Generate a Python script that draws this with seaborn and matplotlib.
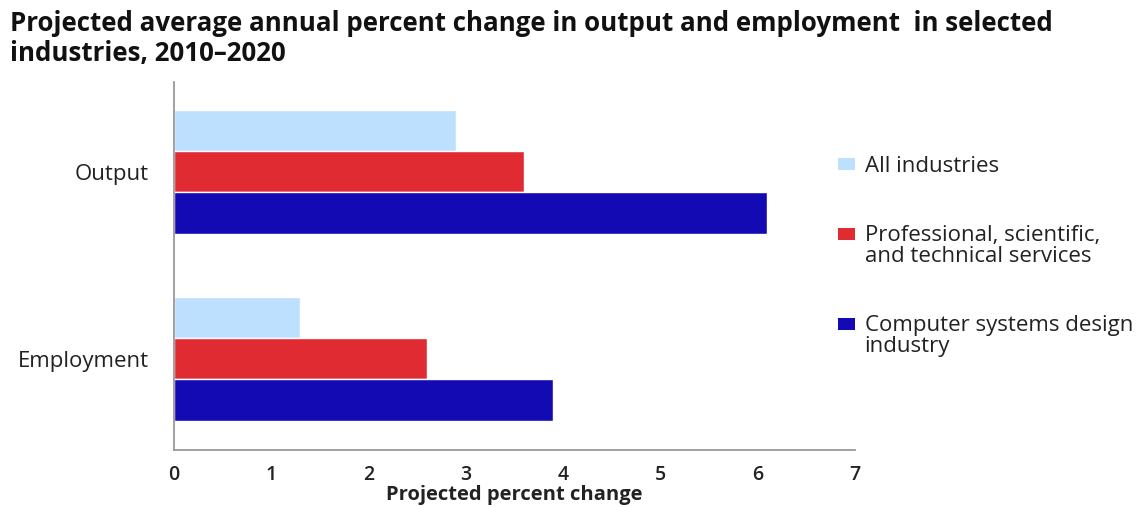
import numpy as np
import pandas as pd
import matplotlib
matplotlib.use("Agg")
import matplotlib.pyplot as plt
from matplotlib.ticker import FixedLocator
from matplotlib.patches import Patch, Rectangle
from matplotlib.legend_handler import HandlerPatch
import seaborn as sns

# データ
MEASURES = ["Output", "Employment"]
SERIES = ["All industries",
          "Professional, scientific,\nand technical services",
          "Computer systems design\nindustry"]
ALL_IND = [2.9, 1.3]
PROF_SCI = [3.6, 2.6]
COMP_SYS = [6.1, 3.9]
COLORS = ["#BDE0FE", "#E02B32", "#140AB4"]

df = pd.DataFrame({
    "measure": MEASURES * 3,
    "series": [SERIES[0]] * 2 + [SERIES[1]] * 2 + [SERIES[2]] * 2,
    "value": ALL_IND + PROF_SCI + COMP_SYS,
})

sns.set_style("white")
plt.rcParams["font.family"] = ["Open Sans", "DejaVu Sans"]

fig = plt.figure(figsize=(11.38, 5.07), dpi=100)
ax = fig.add_axes([174 / 1138, 1 - 450 / 507, (855 - 174) / 1138, (450 - 82) / 507])

sns.barplot(data=df, y="measure", x="value", hue="series", orient="h",
            palette=COLORS, width=0.66, saturation=1, ax=ax, legend=False)

ax.set_xlim(0, 7)
ax.set_ylim(1.487, -0.48)
ax.set_xticks(range(0, 8))
ax.tick_params(axis="x", direction="in", length=7, color="#999999", pad=11,
               labelsize=14, labelcolor="#222222")
ax.tick_params(axis="y", which="major", length=0, pad=18, labelsize=16,
               labelcolor="#222222")
ax.yaxis.set_minor_locator(FixedLocator([0.5]))
ax.tick_params(axis="y", which="minor", direction="in", length=6, color="#555555")
for lab in ax.get_xticklabels():
    lab.set_fontweight("semibold")
ax.set_xlabel("Projected percent change", fontsize=14.5, fontweight="bold",
              color="#222222", labelpad=0)
ax.set_ylabel("")
for s in ["top", "right"]:
    ax.spines[s].set_visible(False)
for s in ["left", "bottom"]:
    ax.spines[s].set_color("#999999")
    ax.spines[s].set_linewidth(1.3)


# 凡例マーカーを1行目に揃える
class TopHandler(HandlerPatch):
    def __init__(self, shift, **kw):
        super().__init__(**kw)
        self.shift = shift

    def create_artists(self, legend, orig_handle, xdescent, ydescent, width,
                       height, fontsize, trans):
        p = Rectangle((-xdescent, -ydescent + self.shift), width, height)
        self.update_prop(p, orig_handle, legend)
        p.set_transform(trans)
        return [p]


handles = [Patch(facecolor=c, edgecolor="none") for c in COLORS]
handler_map = {h: TopHandler(shift=(8.5 if "\n" in lab else 0.0))
               for h, lab in zip(handles, SERIES)}
leg = fig.legend(handles, SERIES, loc="upper left",
                 bbox_to_anchor=(818 / 1138, 1 - 136 / 507),
                 frameon=False, fontsize=16, labelspacing=2.15, handlelength=0.75,
                 handleheight=0.5, handletextpad=0.45, labelcolor="#222222",
                 handler_map=handler_map)
for t in leg.get_texts():
    t.set_linespacing(1.0)

fig.text(10 / 1138, 1 - 10 / 507,
         "Projected average annual percent change in output and employment  in selected\nindustries, 2010\u20132020",
         ha="left", va="top", fontsize=18.6, fontweight="bold", color="#111111",
         linespacing=1.12)

fig.savefig("out.png", dpi=100)
